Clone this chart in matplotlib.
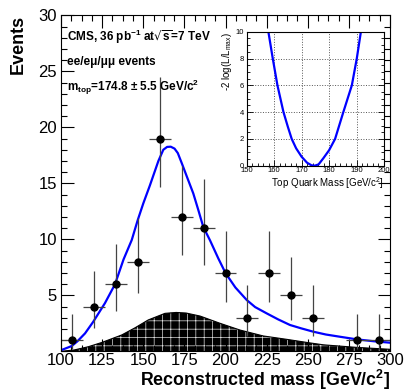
import matplotlib
matplotlib.use("Agg")
import matplotlib.pyplot as plt
from matplotlib.ticker import MultipleLocator

plt.rcParams['font.family'] = ['Liberation Sans', 'DejaVu Sans']
plt.rcParams['mathtext.default'] = 'regular'
plt.rcParams['hatch.linewidth'] = 0.5

# data points (bin centres, counts, asymmetric poisson errors)
bin_x = [106.67, 120, 133.33, 146.67, 160, 173.33, 186.67, 200, 213.33, 226.67, 240, 253.33, 280, 293.33]
counts = [1, 4, 6, 8, 19, 12, 11, 7, 3, 7, 5, 3, 1, 1]
err_lo = [0.83, 1.91, 2.38, 2.77, 4.32, 3.40, 3.26, 2.58, 1.63, 2.58, 2.16, 1.63, 0.83, 0.83]
err_hi = [2.30, 3.16, 3.58, 3.94, 5.47, 4.56, 4.42, 3.77, 2.92, 3.77, 3.38, 2.92, 2.30, 2.30]
half_bin = 6.67

# fitted signal+background curve
fit_x = [100, 106.5, 110, 114.6, 119.6, 126.7, 132.8, 138, 143, 146.6, 150, 154, 159.2, 162.2,
         164.5, 166.7, 169, 171, 173.4, 176.5, 180.4, 183.5, 186.5, 190.6, 195.6, 200.1, 206,
         212.9, 218, 225, 232, 239.2, 246, 253.4, 261, 269.6, 279.7, 290, 300]
fit_y = [0.1, 0.47, 0.9, 1.6, 2.64, 4.3, 5.98, 8.2, 9.94, 11.7, 13.2, 14.8, 17.0, 18.0,
         18.25, 18.27, 18.1, 17.7, 16.8, 15.6, 14.1, 12.6, 11.1, 9.9, 8.3, 6.96, 5.7,
         4.58, 3.95, 3.39, 2.85, 2.35, 2.05, 1.75, 1.5, 1.3, 1.07, 0.9, 0.77]

# background template
bkg_x = [100, 108, 116.6, 125, 136.9, 145, 153, 163.2, 170, 176, 184.5, 196.7, 208.8,
         223, 237.2, 250, 259.5, 279.7, 300]
bkg_y = [0, 0.12, 0.41, 0.8, 1.46, 2.1, 2.8, 3.39, 3.47, 3.42, 3.15, 2.5, 1.9,
         1.37, 1.07, 0.78, 0.58, 0.35, 0.18]

# likelihood scan for the inset
mass = [157.9, 159.5, 161.2, 163.4, 165, 166.4, 168, 170, 172, 173.6, 174.8, 176.2, 177.9,
        180, 182.2, 185.2, 188.3, 190.1, 191.6]
nll = [10, 8, 6, 4, 2.9, 2, 1.3, 0.67, 0.22, 0.03, 0, 0.1, 0.55, 1.15, 2, 4, 6, 8, 10]

fig = plt.figure(figsize=(4.07, 3.91), dpi=100)
ax = fig.add_axes([0.1499, 0.1015, 0.8084, 0.8593])

ax.fill_between(bkg_x, 0, bkg_y, facecolor='black', edgecolor='#dddddd', hatch='++', linewidth=0)
ax.plot(bkg_x, bkg_y, color='black', lw=0.8)
ax.plot(fit_x, fit_y, color='#0000ff', lw=1.6)
ax.errorbar(bin_x, counts, yerr=[err_lo, err_hi], xerr=half_bin, fmt='o', color='black',
            ecolor='#444444', elinewidth=0.9, capsize=0, markersize=5)

ax.set_xlim(100, 300)
ax.set_ylim(0, 30)
ax.set_xticks([100, 125, 150, 175, 200, 225, 250, 275, 300])
ax.set_yticks([5, 10, 15, 20, 25, 30])
ax.xaxis.set_minor_locator(MultipleLocator(6.25))
ax.yaxis.set_minor_locator(MultipleLocator(1))
ax.tick_params(which='both', direction='in', top=True, right=True, labelsize=12, pad=3)
ax.tick_params(axis='x', pad=1.5)
ax.tick_params(which='major', length=9, width=0.8)
ax.tick_params(which='minor', length=4.5, width=0.8)
ax.set_xlabel('Reconstructed mass [GeV/c$^2$]', fontsize=12.8, fontweight='bold', loc='right', labelpad=0)
ax.set_ylabel('Events', fontsize=13, fontweight='bold', loc='top', labelpad=8)

ax.text(0.018, 0.935, 'CMS, 36 pb$^{-1}$ at$\\sqrt{s}$=7 TeV', transform=ax.transAxes,
        fontsize=8.5, fontweight='bold', va='center')
ax.text(0.018, 0.86, 'ee/eμ/μμ events', transform=ax.transAxes,
        fontsize=8.5, fontweight='bold', va='center')
ax.text(0.018, 0.785, 'm$_{top}$=174.8 ± 5.5 GeV/c$^2$', transform=ax.transAxes,
        fontsize=8.5, fontweight='bold', va='center')

# inset with likelihood
ins = fig.add_axes([0.6061, 0.5762, 0.3373, 0.3427])
ins.plot(mass, nll, color='#0000ff', lw=1.6)
ins.set_xlim(150, 200)
ins.set_ylim(0, 10)
ins.set_xticks([150, 160, 170, 180, 190, 200])
ins.set_yticks([0, 2, 4, 6, 8, 10])
ins.xaxis.set_minor_locator(MultipleLocator(2))
ins.yaxis.set_minor_locator(MultipleLocator(0.5))
ins.grid(True, which='major', linestyle=':', color='#555555', lw=0.7)
ins.tick_params(which='both', direction='in', top=False, right=True, labelsize=5.5, pad=1)
ins.tick_params(axis='y', pad=2)
ins.tick_params(which='major', length=4, width=0.6)
ins.tick_params(which='minor', length=2, width=0.6)
ins.set_xlabel('Top Quark Mass [GeV/c$^2$]', fontsize=7, loc='right', labelpad=1)
ins.set_ylabel('-2 log(L/L$_{max}$)', fontsize=7, loc='top', labelpad=1)

fig.savefig('out.png', dpi=100)
